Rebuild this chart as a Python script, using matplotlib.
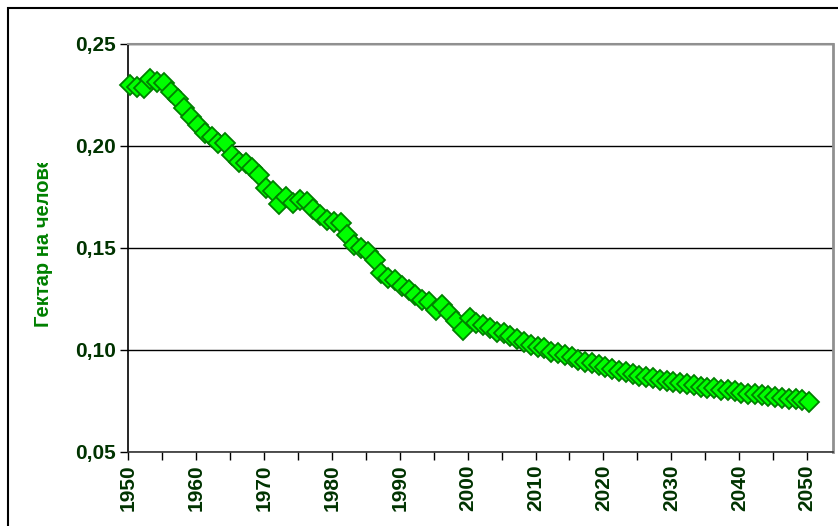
import matplotlib
matplotlib.use("Agg")
import matplotlib.pyplot as plt
from matplotlib.patches import Rectangle
from matplotlib.transforms import Bbox

plt.rcParams['font.family'] = ['Liberation Sans', 'DejaVu Sans']

# arable land per person, hectares, 1950-2050
years = list(range(1950, 2051))
hectares = [
    0.2299, 0.2288, 0.2283, 0.2327, 0.2315, 0.2307, 0.2263, 0.2229, 0.2185, 0.2141,
    0.2103, 0.2062, 0.2043, 0.2016, 0.2013, 0.1956, 0.1923, 0.1915, 0.1891, 0.1858,
    0.1793, 0.1781, 0.1716, 0.1752, 0.1722, 0.1735, 0.1727, 0.1690, 0.1662, 0.1637,
    0.1629, 0.1621, 0.1564, 0.1515, 0.1500, 0.1482, 0.1441, 0.1376, 0.1351, 0.1343,
    0.1314, 0.1294, 0.1270, 0.1245, 0.1237, 0.1196, 0.1221, 0.1180, 0.1144, 0.1098,
    0.1155, 0.1134, 0.1123, 0.1106, 0.1090, 0.1082, 0.1069, 0.1052, 0.1041, 0.1025,
    0.1013, 0.1008, 0.0992, 0.0984, 0.0975, 0.0964, 0.0951, 0.0943, 0.0938, 0.0926,
    0.0915, 0.0907, 0.0898, 0.0890, 0.0882, 0.0873, 0.0869, 0.0861, 0.0853, 0.0848,
    0.0841, 0.0836, 0.0831, 0.0826, 0.0821, 0.0816, 0.0812, 0.0806, 0.0802, 0.0797,
    0.0790, 0.0786, 0.0782, 0.0778, 0.0774, 0.0770, 0.0766, 0.0762, 0.0758, 0.0754,
    0.0746,
]
ylabel = "Гектар на человека"
label_color = '#003300'

fig = plt.figure(figsize=(8.38, 5.26), dpi=100)
ax = fig.add_axes([128 / 838, 1 - 452 / 526, (833 - 128) / 838, (452 - 44) / 526])

# outer chart frame (cut off at right and bottom)
fig.patches.append(Rectangle((8 / 838, -0.2), 1.5, 1.2 - 8 / 526,
                             transform=fig.transFigure, fill=False,
                             edgecolor='black', linewidth=1.5))

ax.plot([y + 0.3 for y in years], hectares, linestyle='none', marker='D',
        markersize=10.5, markerfacecolor='#00ff00', markeredgecolor='#008000',
        markeredgewidth=1.3, zorder=3, clip_on=False)

ax.set_xlim(1950, 2053.8)
ax.set_ylim(0.05, 0.25)

ax.set_yticks([0.05, 0.10, 0.15, 0.20, 0.25])
ax.set_yticklabels([f"{v:.2f}".replace('.', ',') for v in [0.05, 0.10, 0.15, 0.20, 0.25]])
xt = list(range(1950, 2051, 5))
ax.set_xticks(xt)
ax.set_xticklabels([str(t) if t % 10 == 0 else '' for t in xt], rotation=90)

ax.tick_params(axis='both', direction='out', length=6, width=1, color='black',
               labelsize=15, labelcolor=label_color)
ax.tick_params(axis='x', pad=3)
ax.tick_params(axis='y', pad=3)
for lab in ax.get_xticklabels() + ax.get_yticklabels():
    lab.set_fontweight('bold')

ax.grid(axis='y', color='black', linewidth=1)
ax.set_axisbelow(True)
ax.spines['left'].set_color('black')
ax.spines['left'].set_linewidth(1.2)
ax.spines['bottom'].set_color('#333333')
ax.spines['bottom'].set_linewidth(1.2)
ax.spines['top'].set_color('#909090')
ax.spines['top'].set_linewidth(1.5)
ax.spines['right'].set_color('#909090')
ax.spines['right'].set_linewidth(2)

t = fig.text(43.5 / 838, 1 - 327 / 526, ylabel, rotation=90, ha='center', va='bottom',
             color='#008000', fontsize=14.5, fontweight='bold')
t.set_clip_box(Bbox.from_extents(0, 0, 120, 526 - 163))
t.set_clip_on(True)

fig.savefig('out.png', dpi=100)
